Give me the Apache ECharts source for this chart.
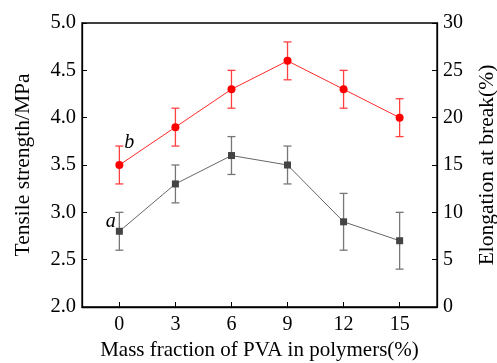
<!DOCTYPE html>
<html>
<head>
<meta charset="utf-8">
<script src="https://cdn.jsdelivr.net/npm/echarts@6/dist/echarts.min.js"></script>
<style>
  html, body { margin: 0; padding: 0; background: #fff; }
  #chart { width: 497px; height: 363px; }
</style>
</head>
<body>
<div id="chart"></div>
<script>
// 横轴：PVA 质量分数(%)
const pvaFraction = [0, 3, 6, 9, 12, 15];

// a：拉伸强度 (MPa)，左轴
const tensileStrength = [2.8, 3.3, 3.6, 3.5, 2.9, 2.7];
const tensileError = [0.2, 0.2, 0.2, 0.2, 0.3, 0.3];

// b：断裂伸长率 (%)，右轴
const elongation = [15, 19, 23, 26, 23, 20];
const elongationError = [2, 2, 2, 2, 2, 2];

const FONT = '"Liberation Serif", "DejaVu Serif", serif';

// 误差棒
function errorBarSeries(values, errors, yAxisIndex, color) {
    return {
        type: 'custom',
        yAxisIndex: yAxisIndex,
        silent: true,
        z: 1,
        data: pvaFraction.map((x, i) => [x, values[i] - errors[i], values[i] + errors[i]]),
        renderItem: function (params, api) {
            const lo = api.coord([api.value(0), api.value(1)]);
            const hi = api.coord([api.value(0), api.value(2)]);
            const half = 4;
            const style = { stroke: color, lineWidth: 1.3 };
            return {
                type: 'group',
                children: [
                    { type: 'line', shape: { x1: lo[0], y1: lo[1], x2: hi[0], y2: hi[1] }, style: style },
                    { type: 'line', shape: { x1: lo[0] - half, y1: lo[1], x2: lo[0] + half, y2: lo[1] }, style: style },
                    { type: 'line', shape: { x1: hi[0] - half, y1: hi[1], x2: hi[0] + half, y2: hi[1] }, style: style }
                ]
            };
        }
    };
}

function lineSeries(values, yAxisIndex, color, lineColor, symbol, size, tag, labelPos) {
    return {
        type: 'line',
        yAxisIndex: yAxisIndex,
        z: 3,
        symbol: symbol,
        symbolSize: size,
        itemStyle: { color: color },
        lineStyle: { color: lineColor, width: 1 },
        data: pvaFraction.map((x, i) => {
            const d = { value: [x, values[i]] };
            if (i === 0) {
                d.label = {
                    show: true,
                    formatter: tag,
                    position: labelPos,
                    fontFamily: FONT,
                    fontStyle: 'italic',
                    fontSize: 20,
                    color: '#000'
                };
            }
            return d;
        })
    };
}

const chart = echarts.init(document.getElementById('chart'));
chart.setOption({
    animation: false,
    grid: {
        left: 82, right: 60, top: 23, bottom: 56,
        containLabel: false,
        outerBoundsMode: 'none',
        show: true, borderColor: '#000', borderWidth: 1.3, backgroundColor: 'transparent'
    },
    xAxis: {
        type: 'value',
        min: -2,
        max: 17,
        name: 'Mass fraction of PVA in polymers(%)',
        nameLocation: 'middle',
        nameGap: 31,
        nameTextStyle: { fontFamily: FONT, fontSize: 21, color: '#000' },
        axisLine: { onZero: false, lineStyle: { color: '#000', width: 1.3 } },
        axisTick: { inside: true, length: 5, customValues: pvaFraction, lineStyle: { color: '#000' } },
        axisLabel: { customValues: pvaFraction, fontFamily: FONT, fontSize: 20, color: '#000', margin: 8 },
        splitLine: { show: false }
    },
    yAxis: [
        {
            type: 'value',
            min: 2,
            max: 5,
            interval: 0.5,
            name: 'Tensile strength/MPa',
            nameLocation: 'middle',
            nameGap: 48,
            nameTextStyle: { fontFamily: FONT, fontSize: 21.5, color: '#000' },
            axisLine: { show: true, onZero: false, lineStyle: { color: '#000', width: 1.3 } },
            axisTick: { show: true, inside: true, length: 5, lineStyle: { color: '#000' } },
            axisLabel: { fontFamily: FONT, fontSize: 20.5, color: '#000', margin: 6, formatter: v => v.toFixed(1) },
            splitLine: { show: false }
        },
        {
            type: 'value',
            min: 0,
            max: 30,
            interval: 5,
            position: 'right',
            name: 'Elongation at break(%)',
            nameLocation: 'middle',
            nameGap: 39,
            nameRotate: 90,
            nameTextStyle: { fontFamily: FONT, fontSize: 21.5, color: '#000' },
            axisLine: { show: true, onZero: false, lineStyle: { color: '#000', width: 1.3 } },
            axisTick: { show: true, inside: true, length: 5, lineStyle: { color: '#000' } },
            axisLabel: { fontFamily: FONT, fontSize: 20, color: '#000', margin: 6 },
            splitLine: { show: false }
        }
    ],
    series: [
        errorBarSeries(tensileStrength, tensileError, 0, '#777'),
        errorBarSeries(elongation, elongationError, 1, '#ff4040'),
        lineSeries(tensileStrength, 0, '#444', '#666', 'rect', 7, 'a', [-10, -16]),
        lineSeries(elongation, 1, '#ff0000', '#ff2a2a', 'circle', 8, 'b', [9, -28])
    ]
});
</script>
</body>
</html>
